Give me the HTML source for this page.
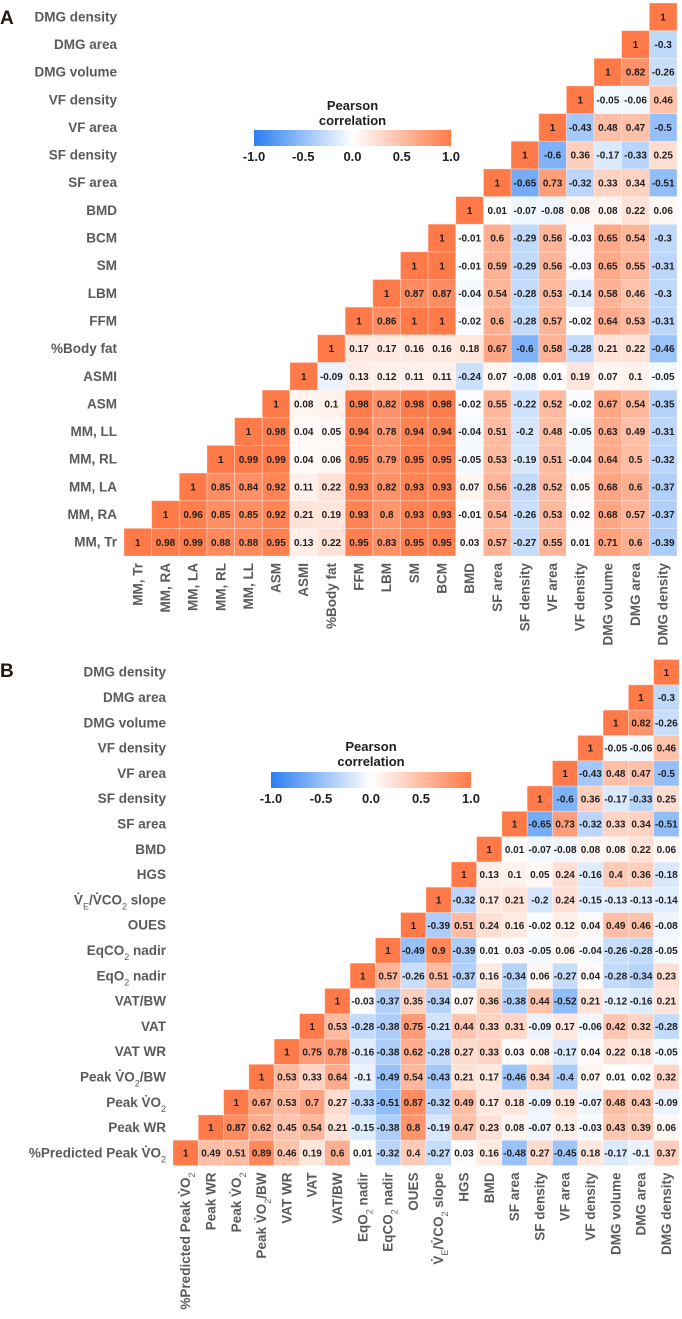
<!DOCTYPE html>
<html><head><meta charset="utf-8">
<style>
html,body{margin:0;padding:0;background:#fff;}
svg{display:block;font-family:"Liberation Sans",Arial,sans-serif;}
.lab{font-size:13.5px;font-weight:bold;fill:#5a5a5a;}
.val{font-size:10px;font-weight:bold;fill:#1e1e1e;}
.leg{font-size:13px;font-weight:bold;fill:#1e1e1e;}
.pl{font-size:19px;font-weight:bold;fill:#231815;}
</style></head>
<body>
<svg id="chart" width="682" height="1319" viewBox="0 0 682 1319" xmlns="http://www.w3.org/2000/svg">
<defs>
<linearGradient id="cbar" x1="0" x2="1" y1="0" y2="0">
<stop offset="0" stop-color="#2a7ff0"/><stop offset="0.5" stop-color="#ffffff"/><stop offset="1" stop-color="#ff7a48"/>
</linearGradient>
</defs>
<text class="pl" x="0" y="24">A</text>
<text class="pl" x="0" y="677">B</text>
</svg>
<script>
const labelsA = ["MM, Tr","MM, RA","MM, LA","MM, RL","MM, LL","ASM","ASMI","%Body fat","FFM","LBM","SM","BCM","BMD","SF area","SF density","VF area","VF density","DMG volume","DMG area","DMG density"];
const labelsB = ["%Predicted Peak V\u0307O_2","Peak WR","Peak V\u0307O_2","Peak V\u0307O_2/BW","VAT WR","VAT","VAT/BW","EqO_2 nadir","EqCO_2 nadir","OUES","V\u0307_E/V\u0307CO_2 slope","HGS","BMD","SF area","SF density","VF area","VF density","DMG volume","DMG area","DMG density"];
const rowsShared = [
[1,0.01,-0.07,-0.08,0.08,0.08,0.22,0.06],
[1,-0.65,0.73,-0.32,0.33,0.34,-0.51],
[1,-0.6,0.36,-0.17,-0.33,0.25],
[1,-0.43,0.48,0.47,-0.5],
[1,-0.05,-0.06,0.46],
[1,0.82,-0.26],
[1,-0.3],
[1]
];
const valuesA = [
[1,0.98,0.99,0.88,0.88,0.95,0.13,0.22,0.95,0.83,0.95,0.95,0.03,0.57,-0.27,0.55,0.01,0.71,0.6,-0.39],
[1,0.96,0.85,0.85,0.92,0.21,0.19,0.93,0.8,0.93,0.93,-0.01,0.54,-0.26,0.53,0.02,0.68,0.57,-0.37],
[1,0.85,0.84,0.92,0.11,0.22,0.93,0.82,0.93,0.93,0.07,0.56,-0.28,0.52,0.05,0.68,0.6,-0.37],
[1,0.99,0.99,0.04,0.06,0.95,0.79,0.95,0.95,-0.05,0.53,-0.19,0.51,-0.04,0.64,0.5,-0.32],
[1,0.98,0.04,0.05,0.94,0.78,0.94,0.94,-0.04,0.51,-0.2,0.48,-0.05,0.63,0.49,-0.31],
[1,0.08,0.1,0.98,0.82,0.98,0.98,-0.02,0.55,-0.22,0.52,-0.02,0.67,0.54,-0.35],
[1,-0.09,0.13,0.12,0.11,0.11,-0.24,0.07,-0.08,0.01,0.19,0.07,0.1,-0.05],
[1,0.17,0.17,0.16,0.16,0.18,0.67,-0.6,0.58,-0.28,0.21,0.22,-0.46],
[1,0.86,1,1,-0.02,0.6,-0.28,0.57,-0.02,0.64,0.53,-0.31],
[1,0.87,0.87,-0.04,0.54,-0.28,0.53,-0.14,0.58,0.46,-0.3],
[1,1,-0.01,0.59,-0.29,0.56,-0.03,0.65,0.55,-0.31],
[1,-0.01,0.6,-0.29,0.56,-0.03,0.65,0.54,-0.3]
].concat(rowsShared);
const valuesB = [
[1,0.49,0.51,0.89,0.46,0.19,0.6,0.01,-0.32,0.4,-0.27,0.03,0.16,-0.48,0.27,-0.45,0.18,-0.17,-0.1,0.37],
[1,0.87,0.62,0.45,0.54,0.21,-0.15,-0.38,0.8,-0.19,0.47,0.23,0.08,-0.07,0.13,-0.03,0.43,0.39,0.06],
[1,0.67,0.53,0.7,0.27,-0.33,-0.51,0.87,-0.32,0.49,0.17,0.18,-0.09,0.19,-0.07,0.48,0.43,-0.09],
[1,0.53,0.33,0.64,-0.1,-0.49,0.54,-0.43,0.21,0.17,-0.46,0.34,-0.4,0.07,0.01,0.02,0.32],
[1,0.75,0.78,-0.16,-0.38,0.62,-0.28,0.27,0.33,0.03,0.08,-0.17,0.04,0.22,0.18,-0.05],
[1,0.53,-0.28,-0.38,0.75,-0.21,0.44,0.33,0.31,-0.09,0.17,-0.06,0.42,0.32,-0.28],
[1,-0.03,-0.37,0.35,-0.34,0.07,0.36,-0.38,0.44,-0.52,0.21,-0.12,-0.16,0.21],
[1,0.57,-0.26,0.51,-0.37,0.16,-0.34,0.06,-0.27,0.04,-0.28,-0.34,0.23],
[1,-0.49,0.9,-0.39,0.01,0.03,-0.05,0.06,-0.04,-0.26,-0.28,-0.05],
[1,-0.39,0.51,0.24,0.16,-0.02,0.12,0.04,0.49,0.46,-0.08],
[1,-0.32,0.17,0.21,-0.2,0.24,-0.15,-0.13,-0.13,-0.14],
[1,0.13,0.1,0.05,0.24,-0.16,0.4,0.36,-0.18]
].concat(rowsShared);
const legendTicks = [-1.0,-0.5,0.0,0.5,1.0];

const NS = "http://www.w3.org/2000/svg";
const svg = document.getElementById("chart");
function mk(tag, attrs, parent){
  const e = document.createElementNS(NS, tag);
  for (const k in attrs) e.setAttribute(k, attrs[k]);
  (parent||svg).appendChild(e);
  return e;
}
function colorFor(v){
  const pos=[255,122,72], neg=[42,127,240];
  const t=Math.min(1,Math.abs(v)), c=v>=0?pos:neg;
  const ch=c.map(x=>Math.round(255+(x-255)*t));
  return "rgb("+ch.join(",")+")";
}
function fmt(v){ return String(v); }
function richText(el, str){
  const parts = str.split(/_(\w)/);
  parts.forEach((p,i)=>{
    if (!p) return;
    const ts = mk("tspan", {}, el);
    if (i%2===1){ ts.setAttribute("baseline-shift","sub"); ts.setAttribute("font-size","9px"); ts.setAttribute("font-weight","normal"); }
    ts.textContent = p;
  });
}
function drawPanel(cfg){
  const g = mk("g", {});
  
  
  const n = cfg.labels.length, c = cfg.cell;
  const xOf = j => cfg.left + j*c;
  const yOf = i => cfg.top + (n-1-i)*c;
  cfg.labels.forEach((lab,i)=>{
    const t = mk("text", {x: cfg.left-7, y: yOf(i)+c/2+4.5, "text-anchor":"end", class:"lab"}, g);
    
    
    richText(t, lab);
  });
  cfg.labels.forEach((lab,j)=>{
    const cx = xOf(j)+c/2+4.5, ty = cfg.top + n*c + 7;
    const t = mk("text", {x:0, y:0, "text-anchor":"end", class:"lab", transform:"translate("+cx+","+ty+") rotate(-90)"}, g);
    
    
    richText(t, lab);
  });
  cfg.values.forEach((row,i)=>{
    row.forEach((v,k)=>{
      const j = i+k;
      const r = mk("rect", {x:xOf(j), y:yOf(i), width:c, height:c, fill:colorFor(v), stroke:"#ffffff", "stroke-opacity":"0.35", "stroke-width":"0.8"}, g);
      
      
      const t = mk("text", {x:xOf(j)+c/2, y:yOf(i)+c/2+3.6, "text-anchor":"middle", class:"val"}, g);
      
      
      t.textContent = fmt(v);
    });
  });
  const L = cfg.legend;
  const lg = mk("g", {}, g);
  
  
  const mid = (L.x0+L.x1)/2;
  const t1 = mk("text", {x:mid, y:L.ty, "text-anchor":"middle", class:"leg"}, lg);
  
  
  t1.textContent = "Pearson";
  const t2 = mk("text", {x:mid, y:L.ty+15, "text-anchor":"middle", class:"leg"}, lg);
  
  
  t2.textContent = "correlation";
  const bar = mk("rect", {x:L.x0, y:L.by, width:L.x1-L.x0, height:16, fill:"url(#cbar)"}, lg);
  
  
  const lx = v => L.x0 + (v+1)/2*(L.x1-L.x0);
  legendTicks.forEach(v=>{
    const tt = mk("text", {x:lx(v), y:L.by+31, "text-anchor":"middle", class:"leg"}, lg);
    
    
    tt.textContent = v.toFixed(1);
  });
}
drawPanel({name:"heatmap-a", labels:labelsA, values:valuesA, left:124, top:3, cell:27.65,
  legend:{x0:254, x1:451, ty:110, by:130}});
drawPanel({name:"heatmap-b", labels:labelsB, values:valuesB, left:173, top:659.5, cell:25.3,
  legend:{x0:271, x1:471, ty:751, by:772}});
</script>
</body></html>
